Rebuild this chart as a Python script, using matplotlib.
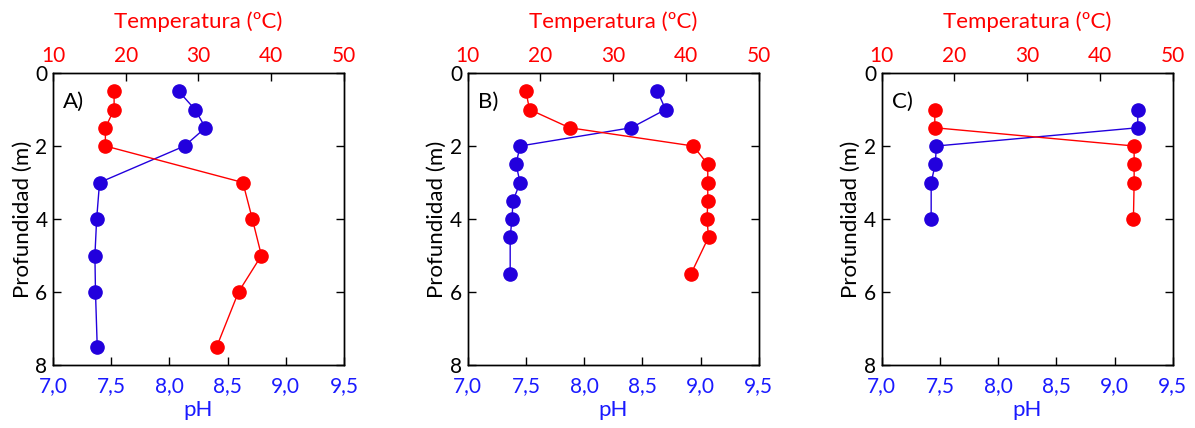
import matplotlib
matplotlib.use("Agg")
import matplotlib.pyplot as plt

plt.rcParams['font.family'] = ['Lato', 'DejaVu Sans']

# Panel A
depth_A = [0.5, 1.0, 1.5, 2.0, 3.0, 4.0, 5.0, 6.0, 7.5]
ph_A = [8.08, 8.22, 8.31, 8.13, 7.40, 7.375, 7.36, 7.365, 7.38]
temp_A = [18.4, 18.4, 17.2, 17.2, 36.1, 37.4, 38.65, 35.5, 32.5]

# Panel B
depth_B = [0.5, 1.0, 1.5, 2.0, 2.5, 3.0, 3.5, 4.0, 4.5, 5.5]
ph_B_depth = [0.5, 1.0, 1.5, 2.0, 2.5, 3.0, 3.5, 4.0, 4.5, 5.5]
ph_B = [8.63, 8.70, 8.405, 7.45, 7.415, 7.45, 7.39, 7.38, 7.365, 7.365]
temp_B = [18.0, 18.5, 24.0, 41.0, 43.0, 43.0, 43.0, 42.9, 43.1, 40.7]

# Panel C
depth_C = [1.0, 1.5, 2.0, 2.5, 3.0, 4.0]
ph_C = [9.20, 9.20, 7.47, 7.46, 7.425, 7.425]
temp_C = [17.3, 17.3, 44.7, 44.7, 44.7, 44.6]

panels = [
    ("A)", depth_A, ph_A, depth_A, temp_A),
    ("B)", ph_B_depth, ph_B, depth_B, temp_B),
    ("C)", depth_C, ph_C, depth_C, temp_C),
]

ph_ticks = [7.0, 7.5, 8.0, 8.5, 9.0, 9.5]
ph_ticklabels = ["7,0", "7,5", "8,0", "8,5", "9,0", "9,5"]
temp_ticks = [10, 20, 30, 40, 50]
depth_ticks = [0, 2, 4, 6, 8]

BLUE_MARK = "#2200dd"
BLUE_TXT = "#1a1aff"
RED = "#ff0000"

fig = plt.figure(figsize=(11.95, 4.28), dpi=100)
lefts = [53, 467.7, 881.7]
W, H = 1195.0, 428.0
for (lab, dph, ph, dt, temp), lpx in zip(panels, lefts):
    ax = fig.add_axes([lpx / W, (428 - 365) / H, 291 / W, 292 / H])
    ax.plot(ph, dph, '-o', color=BLUE_MARK, lw=1.0, ms=9.5, zorder=3, clip_on=False)
    ax.set_xlim(7.0, 9.5)
    ax.set_ylim(8, 0)
    ax.set_xticks(ph_ticks)
    ax.set_xticklabels(ph_ticklabels)
    ax.set_yticks(depth_ticks)
    ax.tick_params(axis='x', colors=BLUE_TXT, direction='in', length=6, width=1,
                   labelsize=15, pad=8)
    ax.tick_params(axis='x', which='both', color='black')
    ax.tick_params(axis='y', direction='in', length=6, width=1, labelsize=15,
                   right=True, pad=4)
    ax.set_xlabel("pH", color=BLUE_TXT, fontsize=16, labelpad=3)
    ax.set_ylabel("Profundidad (m)", fontsize=16, labelpad=2)
    ax.text(0.035, 0.9, lab, transform=ax.transAxes, fontsize=16, va='center', ha='left')

    ax2 = ax.twiny()
    ax2.plot(temp, dt, '-o', color=RED, lw=1.0, ms=9.5, zorder=3, clip_on=False)
    ax2.set_xlim(10, 50)
    ax2.set_ylim(8, 0)
    ax2.set_xticks(temp_ticks)
    ax2.tick_params(axis='x', labelcolor=RED, color='black', direction='in', length=6,
                    width=1, labelsize=15, pad=5)
    ax2.set_xlabel("Temperatura (ºC)", color=RED, fontsize=16, labelpad=13)
    for a in (ax, ax2):
        for s in a.spines.values():
            s.set_linewidth(1.0)

fig.savefig("out.png", dpi=100)
